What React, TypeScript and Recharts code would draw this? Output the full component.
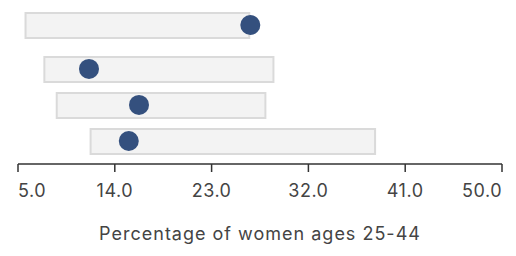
import React from "react";
import { Bar, ComposedChart, Scatter, XAxis, YAxis } from "recharts";

// rows top to bottom; the first row sits a little apart from the rest
const rowSlots = [0, 1.22, 2.22, 3.22];
const rangeLow = [5.7, 7.45, 8.6, 11.75];
const rangeHigh = [26.5, 28.75, 28.0, 38.2];
const dotValues = [26.6, 11.6, 16.25, 15.3];
const xTicks = [5, 14, 23, 32, 41, 50];

const data = rowSlots.map((row, i) => ({
  row,
  range: [rangeLow[i], rangeHigh[i]],
  dot: dotValues[i],
}));

const FONT = "Inter, 'Open Sans', sans-serif";

const AxisTick = (props: any) => {
  const { x, y, payload, index } = props;
  const last = xTicks.length - 1;
  const anchor = index === 0 ? "start" : index === last ? "end" : "middle";
  return (
    <text x={x} y={y + 25} textAnchor={anchor} fill="#444" fontSize={18} letterSpacing={0.5} fontFamily={FONT}>
      {Number(payload.value).toFixed(1)}
    </text>
  );
};

const App = () => {
  return (
    <div style={{ position: "absolute", left: 0, top: 0, width: 516, height: 256, background: "#fff" }}>
      <ComposedChart
        width={516}
        height={256}
        data={data}
        layout="vertical"
        margin={{ top: 0, right: 14, left: 18, bottom: 0 }}
      >
        <XAxis
          type="number"
          domain={[5, 50]}
          ticks={xTicks}
          allowDataOverflow
          height={92}
          tickSize={8}
          tickMargin={0}
          axisLine={{ stroke: "#333", strokeWidth: 1.5 }}
          tickLine={{ stroke: "#333", strokeWidth: 1.5 }}
          tick={<AxisTick />}
          interval={0}
          label={{
            value: "Percentage of women ages 25-44",
            position: "insideBottom",
            offset: 16,
            fill: "#444",
            fontSize: 18,
            letterSpacing: 1,
            fontFamily: FONT,
          }}
        />
        <YAxis type="number" dataKey="row" domain={[-0.694, 3.86]} hide />
        <Bar
          dataKey="range"
          barSize={25}
          fill="#f3f3f3"
          stroke="#dadada"
          strokeWidth={2}
          isAnimationActive={false}
        />
        <Scatter
          dataKey="dot"
          fill="#34507e"
          shape={(p: any) => <circle cx={p.cx} cy={p.cy} r={10} fill="#34507e" />}
          isAnimationActive={false}
        />
      </ComposedChart>
    </div>
  );
};

export default App;
